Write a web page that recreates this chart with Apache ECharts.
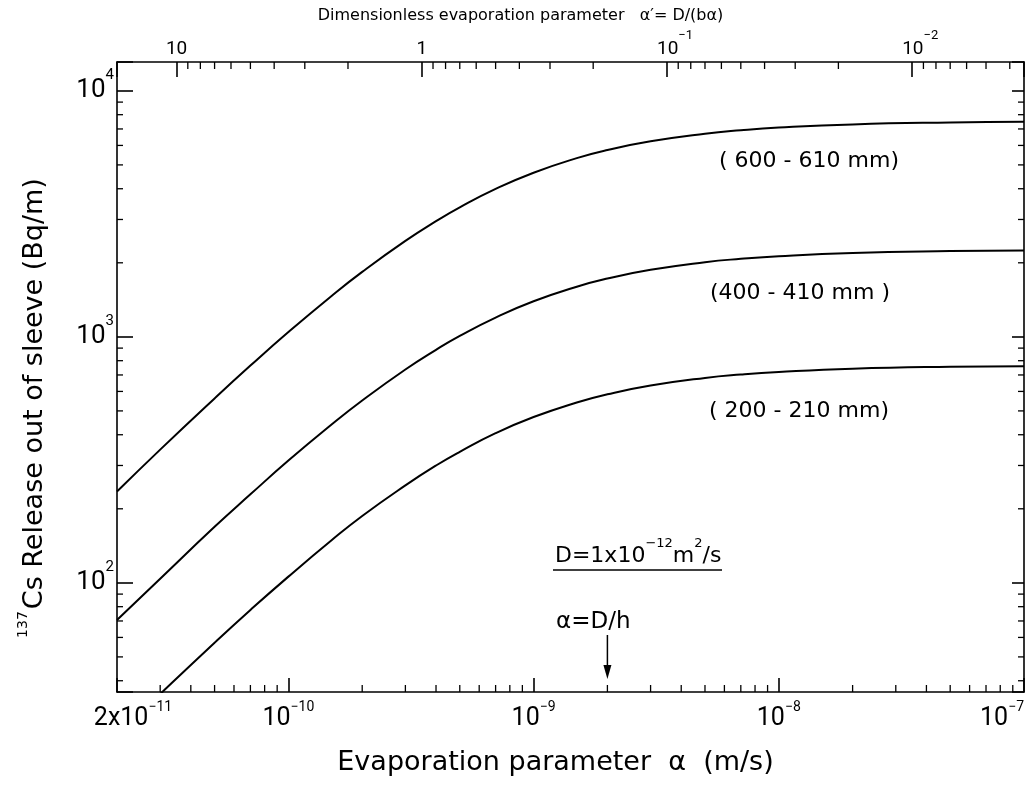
<!DOCTYPE html>
<html>
<head>
<meta charset="utf-8">
<title>137Cs release out of sleeve</title>
<script src="https://cdn.jsdelivr.net/npm/echarts@6/dist/echarts.min.js"></script>
<style>
  html, body { margin: 0; padding: 0; background: #fff; }
  #chart { width: 1034px; height: 787px; }
</style>
</head>
<body>
<div id="chart"></div>
<script>
// evaporation parameter alpha (m/s)
var alpha = [2e-11, 3e-11, 5e-11, 7e-11, 1e-10, 1.5e-10, 2e-10, 3e-10, 4e-10, 5e-10, 7e-10,
             1e-9, 1.5e-9, 2e-9, 3e-9, 5e-9, 7e-9, 1e-8, 2e-8, 5e-8, 1e-7];
// 137Cs release out of sleeve (Bq/m)
var release600 = [235, 348, 562, 764, 1046, 1467, 1837, 2456, 2953, 3361, 3993,
                  4648, 5328, 5748, 6240, 6699, 6917, 7090, 7303, 7438, 7483];
var release400 = [70.6, 104, 169, 229, 314, 440, 551, 737, 886, 1009, 1198,
                  1395, 1599, 1725, 1873, 2011, 2076, 2128, 2192, 2232, 2246];
var release200 = [23.9, 35.3, 57.1, 77.6, 106, 149, 187, 249, 300, 341, 406,
                  472, 541, 584, 634, 681, 703, 720, 742, 756, 760];
var curveNames = ['( 600 - 610 mm)', '(400 - 410 mm )', '( 200 - 210 mm)'];

var xMin = 2e-11, xMax = 1e-7;
var yMin = 36, yMax = 13100;
var DB = 3.5e-10;          // D/b, so alpha' = DB / alpha
var alphaDh = 2e-9;        // alpha = D/h, the arrow

// tick labels
var xTickValues = [2e-11, 1e-10, 1e-9, 1e-8, 1e-7];
var xTickLabels = ['{m|2x10}{s|−11}', '{b|10}{s|−10}', '{b|10}{s|−9}', '{b|10}{s|−8}', '{b|10}{s|−7}'];
var topTickValues = [10, 1, 0.1, 0.01];
var topTickLabels = ['{b|10}', '{b|1}', '{bp|10}{s|−1}', '{bp|10}{s|−2}'];
var yTickValues = [100, 1000, 10000];
var yTickLabels = ['{b|10}{s|2}', '{b|10}{s|3}', '{b|10}{s|4}'];

// minor ticks (2..9 in each decade)
var xMinor = [3e-11, 4e-11, 5e-11, 6e-11, 7e-11, 8e-11, 9e-11,
              2e-10, 3e-10, 4e-10, 5e-10, 6e-10, 7e-10, 8e-10, 9e-10,
              2e-9, 3e-9, 4e-9, 5e-9, 6e-9, 7e-9, 8e-9, 9e-9,
              2e-8, 3e-8, 4e-8, 5e-8, 6e-8, 7e-8, 8e-8, 9e-8];
var topMinor = [2, 3, 4, 5, 6, 7, 8, 9,
                0.2, 0.3, 0.4, 0.5, 0.6, 0.7, 0.8, 0.9,
                0.02, 0.03, 0.04, 0.05, 0.06, 0.07, 0.08, 0.09,
                0.004, 0.005, 0.006, 0.007, 0.008, 0.009];
var yMinor = [40, 50, 60, 70, 80, 90,
              200, 300, 400, 500, 600, 700, 800, 900,
              2000, 3000, 4000, 5000, 6000, 7000, 8000, 9000];

var FONT = 'DejaVu Sans';
var NUM = 'Roboto';

function pickLabel(values, labels) {
    return function (v) {
        for (var i = 0; i < values.length; i++) {
            if (Math.abs(Math.log10(v) - Math.log10(values[i])) < 1e-3) return labels[i];
        }
        return '';
    };
}

function pairs(xs, ys) {
    return xs.map(function (x, i) { return [x, ys[i]]; });
}

function line(x1, y1, x2, y2, w) {
    return { type: 'line', shape: { x1: x1, y1: y1, x2: x2, y2: y2 },
             style: { stroke: '#000', lineWidth: w || 1.3 } };
}

var black = { color: '#000', width: 1.6 };

var chart = echarts.init(document.getElementById('chart'));

var option = {
    animation: false,
    backgroundColor: '#fff',
    grid: { left: 117, right: 10, top: 62, bottom: 95, containLabel: false, outerBoundsMode: 'none' },
    xAxis: [{
        type: 'log', logBase: 10, min: xMin, max: xMax, position: 'bottom',
        name: 'Evaporation parameter  α  (m/s)', nameLocation: 'middle', nameGap: 57,
        nameTextStyle: { fontFamily: FONT, fontSize: 27, color: '#000', padding: [0, 30, 0, 0] },
        axisLine: { lineStyle: black },
        axisTick: { inside: true, length: 14, lineStyle: black },
        splitLine: { show: false },
        axisLabel: {
            margin: 8, color: '#000', formatter: pickLabel(xTickValues, xTickLabels),
            alignMaxLabel: 'right',
            rich: {
                b: { fontFamily: NUM, fontSize: 25, lineHeight: 26, verticalAlign: 'bottom', color: '#000' },
                m: { fontFamily: NUM, fontSize: 25, lineHeight: 26, verticalAlign: 'bottom', color: '#000', padding: [0, 0, 0, 32] },
                s: { fontFamily: NUM, fontSize: 14, lineHeight: 31, verticalAlign: 'top', color: '#000' }
            }
        }
    }, {
        type: 'log', logBase: 10, min: DB / xMax, max: DB / xMin, position: 'top', inverse: true,
        name: 'Dimensionless evaporation parameter   α′= D/(bα)', nameLocation: 'middle', nameGap: 36,
        nameTextStyle: { fontFamily: FONT, fontSize: 16, color: '#000', padding: [0, 100, 0, 0] },
        axisLine: { lineStyle: black },
        axisTick: { inside: true, length: 15, lineStyle: black },
        splitLine: { show: false },
        axisLabel: {
            margin: 3, color: '#000', formatter: pickLabel(topTickValues, topTickLabels),
            rich: {
                b: { fontFamily: NUM, fontSize: 19, lineHeight: 22, verticalAlign: 'bottom', color: '#000' },
                bp: { fontFamily: NUM, fontSize: 19, lineHeight: 22, verticalAlign: 'bottom', color: '#000', padding: [0, 0, 0, 16] },
                s: { fontFamily: NUM, fontSize: 13, lineHeight: 30, verticalAlign: 'top', color: '#000' }
            }
        }
    }],
    yAxis: [{
        type: 'log', logBase: 10, min: yMin, max: yMax, position: 'left',
        name: '{sup|137}{n|Cs Release out of sleeve (Bq/m)}', nameLocation: 'middle', nameRotate: 90, nameGap: 69,
        nameTextStyle: {
            color: '#000', padding: [0, 62, 0, 0],
            rich: {
                sup: { fontFamily: FONT, fontSize: 14, lineHeight: 32, verticalAlign: 'top', color: '#000', padding: [0, 2, 0, 0] },
                n: { fontFamily: FONT, fontSize: 27, lineHeight: 30, verticalAlign: 'bottom', color: '#000' }
            }
        },
        axisLine: { lineStyle: black },
        axisTick: { inside: true, length: 16, lineStyle: black },
        splitLine: { show: false },
        axisLabel: {
            margin: 3, color: '#000', formatter: pickLabel(yTickValues, yTickLabels),
            rich: {
                b: { fontFamily: NUM, fontSize: 26, lineHeight: 26, verticalAlign: 'middle', color: '#000' },
                s: { fontFamily: NUM, fontSize: 15, lineHeight: 46, verticalAlign: 'top', color: '#000' }
            }
        }
    }, {
        type: 'log', logBase: 10, min: yMin, max: yMax, position: 'right',
        axisLine: { lineStyle: black },
        axisTick: { inside: true, length: 12, lineStyle: black },
        axisLabel: { show: false },
        splitLine: { show: false }
    }],
    series: [
        { name: curveNames[0], type: 'line', data: pairs(alpha, release600), symbol: 'none', smooth: true,
          lineStyle: { color: '#000', width: 2 }, clip: true },
        { name: curveNames[1], type: 'line', data: pairs(alpha, release400), symbol: 'none', smooth: true,
          lineStyle: { color: '#000', width: 2 }, clip: true },
        { name: curveNames[2], type: 'line', data: pairs(alpha, release200), symbol: 'none', smooth: true,
          lineStyle: { color: '#000', width: 2 }, clip: true },
        {   // bottom minor ticks
            type: 'custom', xAxisIndex: 0, yAxisIndex: 0, silent: true,
            data: xMinor.map(function (v) { return [v, yMin]; }),
            renderItem: function (params, api) {
                var p = api.coord([api.value(0), yMin]);
                return line(p[0], p[1], p[0], p[1] - 7);
            }
        },
        {   // top minor ticks
            type: 'custom', xAxisIndex: 1, yAxisIndex: 0, silent: true,
            data: topMinor.map(function (v) { return [v, yMax]; }),
            renderItem: function (params, api) {
                var p = api.coord([api.value(0), yMax]);
                return line(p[0], p[1], p[0], p[1] + 7);
            }
        },
        {   // left and right minor ticks
            type: 'custom', xAxisIndex: 0, yAxisIndex: 0, silent: true,
            data: yMinor.map(function (v) { return [xMin, v]; }),
            renderItem: function (params, api) {
                var l = api.coord([xMin, api.value(1)]);
                var r = api.coord([xMax, api.value(1)]);
                return { type: 'group', children: [
                    line(l[0], l[1], l[0] + 6, l[1]),
                    line(r[0], r[1], r[0] - 6, r[1])
                ] };
            }
        },
        {   // arrow marking alpha = D/h
            type: 'custom', xAxisIndex: 0, yAxisIndex: 0, silent: true,
            data: [[alphaDh, yMin]],
            renderItem: function (params, api) {
                var p = api.coord([api.value(0), yMin]);
                return { type: 'group', children: [
                    line(p[0], p[1] - 57, p[0], p[1] - 18, 1.5),
                    { type: 'polygon', shape: { points: [[p[0] - 4, p[1] - 27], [p[0] + 4, p[1] - 27], [p[0], p[1] - 13]] },
                      style: { fill: '#000' } }
                ] };
            }
        }
    ],
    graphic: [
        { type: 'text', x: 809, y: 161, style: { text: curveNames[0], font: '22px "DejaVu Sans"', fill: '#000', textAlign: 'center', textVerticalAlign: 'middle' } },
        { type: 'text', x: 800, y: 293, style: { text: curveNames[1], font: '22px "DejaVu Sans"', fill: '#000', textAlign: 'center', textVerticalAlign: 'middle' } },
        { type: 'text', x: 799, y: 411, style: { text: curveNames[2], font: '22px "DejaVu Sans"', fill: '#000', textAlign: 'center', textVerticalAlign: 'middle' } },
        { type: 'text', x: 555, y: 552, style: {
            text: '{b|D=1x10}{s|−12}{b|m}{s|2}{b|/s}', textAlign: 'left', textVerticalAlign: 'middle', fill: '#000',
            rich: {
                b: { fontFamily: FONT, fontSize: 22, lineHeight: 24, verticalAlign: 'bottom', fill: '#000' },
                s: { fontFamily: FONT, fontSize: 13, lineHeight: 30, verticalAlign: 'top', fill: '#000' }
            } } },
        { type: 'line', shape: { x1: 553, y1: 570, x2: 722, y2: 570 }, style: { stroke: '#000', lineWidth: 1.5 } },
        { type: 'text', x: 556, y: 622, style: { text: 'α=D/h', font: '23px "DejaVu Sans"', fill: '#000', textAlign: 'left', textVerticalAlign: 'middle' } }
    ]
};

chart.setOption(option);
</script>
</body>
</html>
